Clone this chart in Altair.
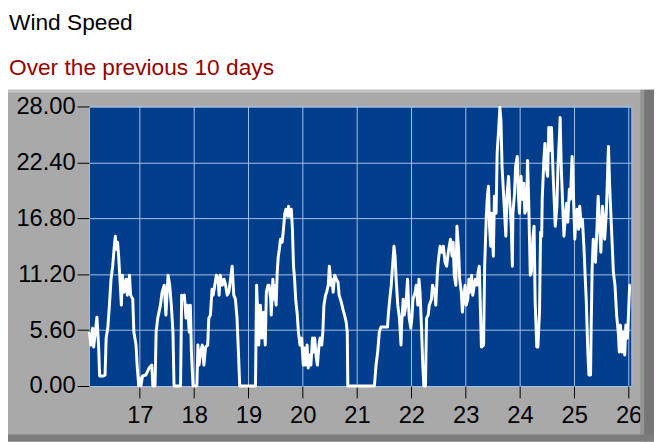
import altair as alt
import pandas as pd


TITLE = "Wind Speed"
SUBTITLE = "Over the previous 10 days"

X_TICKS = [17, 18, 19, 20, 21, 22, 23, 24, 25, 26]
Y_TICKS = [0.0, 5.6, 11.2, 16.8, 22.4, 28.0]

# day of month (fractional) and wind speed
DAY = [
    16.07, 16.10, 16.13, 16.15, 16.18, 16.21, 16.24, 16.26, 16.33, 16.36,
    16.38, 16.41, 16.44, 16.47, 16.50, 16.53, 16.55, 16.56, 16.59, 16.61,
    16.64, 16.66, 16.68, 16.71, 16.75, 16.77, 16.81, 16.83, 16.87, 16.89,
    16.93, 16.95, 16.98, 17.00, 17.02, 17.05, 17.11, 17.17, 17.22, 17.24,
    17.28, 17.30, 17.33, 17.38, 17.41, 17.45, 17.48, 17.52, 17.55, 17.58,
    17.61, 17.63,
    17.75, 17.77, 17.79, 17.82, 17.85, 17.88, 17.91, 17.93, 17.95, 17.98,
    18.05, 18.07, 18.09, 18.12, 18.15, 18.18, 18.21, 18.25, 18.27, 18.30,
    18.33, 18.35, 18.38, 18.41, 18.44, 18.46, 18.48, 18.52, 18.55, 18.58,
    18.61, 18.64, 18.67, 18.70, 18.73, 18.76, 18.79, 18.82, 18.84, 19.13,
    19.15, 19.17, 19.19, 19.22, 19.25, 19.28, 19.31, 19.33, 19.36,
    19.38, 19.41, 19.42, 19.45, 19.47, 19.48, 19.51, 19.53, 19.55, 19.57,
    19.59, 19.62, 19.64, 19.67, 19.69, 19.72, 19.74, 19.76, 19.79, 19.81,
    19.83, 19.85, 19.87, 19.90, 19.92, 19.95, 19.98, 20.01, 20.03, 20.05,
    20.08, 20.10, 20.13, 20.15, 20.18, 20.20, 20.22, 20.25, 20.27, 20.30,
    20.32, 20.35, 20.37, 20.39, 20.42, 20.44, 20.47, 20.49, 20.52, 20.54,
    20.56, 20.59, 20.62, 20.65, 20.67, 20.71, 20.74, 20.77, 20.80, 20.82,
    20.83,
    21.32, 21.35, 21.38, 21.41, 21.44, 21.56, 21.58, 21.61, 21.63, 21.65,
    21.68, 21.70, 21.72, 21.75, 21.78, 21.81, 21.82, 21.85, 21.87, 21.90,
    21.93, 21.96, 21.99, 22.01, 22.03, 22.07, 22.09, 22.12, 22.14, 22.16,
    22.19, 22.21, 22.23, 22.26, 22.28, 22.31, 22.33, 22.37, 22.39, 22.43,
    22.45, 22.48, 22.50, 22.53, 22.56, 22.59, 22.62, 22.65, 22.68, 22.72,
    22.75, 22.77, 22.79, 22.82, 22.84, 22.87, 22.89, 22.92, 22.94, 22.96,
    22.99, 23.01, 23.04, 23.06, 23.08, 23.11, 23.13, 23.16, 23.18, 23.21,
    23.23, 23.25, 23.28, 23.29, 23.33, 23.35, 23.38, 23.40, 23.42, 23.44,
    23.46, 23.48, 23.51, 23.53, 23.56, 23.58, 23.61, 23.63, 23.65, 23.67,
    23.69, 23.72, 23.74, 23.76, 23.79, 23.81, 23.84, 23.86, 23.87, 23.90,
    23.92, 23.95, 23.97, 23.99, 24.02, 24.04, 24.07, 24.09, 24.12, 24.14,
    24.16, 24.19, 24.21, 24.24, 24.26, 24.28, 24.31, 24.33, 24.36, 24.38,
    24.40, 24.41, 24.44, 24.46, 24.48, 24.51, 24.53, 24.56, 24.58, 24.61,
    24.63, 24.65, 24.68, 24.70, 24.73, 24.74, 24.76, 24.79, 24.81, 24.84,
    24.86, 24.88, 24.91, 24.93, 24.96, 24.98, 25.01, 25.03, 25.05, 25.08,
    25.10, 25.13, 25.15, 25.18, 25.20, 25.22, 25.25, 25.27, 25.30, 25.31,
    25.33, 25.35, 25.37, 25.39, 25.42, 25.44, 25.47, 25.49, 25.52, 25.54,
    25.56, 25.59, 25.61, 25.63, 25.65, 25.67, 25.70, 25.72, 25.75, 25.78,
    25.81, 25.83, 25.85, 25.88, 25.90, 25.93, 25.95, 25.98, 26.00, 26.02,
    26.04,
]
SPEED = [
    5.4, 4.1, 5.8, 3.9, 5.4, 6.9, 4.1, 1.0, 1.0, 1.1,
    4.8, 5.8, 8.1, 10.7, 12.0, 14.0, 15.0, 13.7, 14.4, 13.0,
    10.1, 8.1, 11.1, 9.4, 10.7, 9.1, 11.1, 9.1, 8.7, 5.4,
    4.1, 2.1, 0.0, 0.8, 0.0, 1.0, 1.1, 1.8, 2.1, 0.0,
    0.0, 5.4, 6.8, 8.1, 9.4, 10.1, 7.1, 11.1, 10.1, 8.1,
    5.4, 0.0,
    0.0, 9.1, 8.7, 9.1, 6.8, 8.1, 5.4, 8.1, 3.4, 0.0,
    0.0, 4.1, 2.1, 3.4, 4.1, 2.1, 3.9, 4.1, 6.8, 7.1,
    9.7, 9.1, 10.1, 11.1, 10.7, 9.1, 11.1, 10.1, 10.7, 10.1,
    9.1, 9.4, 10.7, 12.0, 9.1, 8.7, 6.8, 2.8, 0.0, 0.0,
    10.1, 7.4, 4.1, 8.1, 4.8, 7.4, 4.1, 9.4, 10.1,
    10.1, 8.7, 7.1, 10.7, 8.7, 10.1, 8.1, 11.4, 13.0, 13.7,
    14.7, 14.4, 15.4, 17.3, 17.7, 17.0, 18.0, 17.0, 17.7, 15.7,
    12.0, 10.7, 8.7, 7.1, 5.4, 4.1, 4.8, 2.1, 3.8, 2.1,
    4.1, 1.8, 3.1, 2.1, 4.8, 3.4, 4.8, 2.8, 2.1, 4.1,
    4.8, 4.1, 5.4, 8.1, 9.1, 9.4, 10.1, 12.0, 10.1, 10.7,
    9.4, 11.1, 10.7, 10.4, 9.1, 8.4, 7.7, 7.1, 6.4, 5.4,
    0.0,
    0.0, 2.1, 3.4, 5.4, 5.9, 5.9, 7.4, 9.1, 10.1, 11.7,
    14.0, 13.0, 10.7, 8.1, 6.8, 4.1, 6.1, 8.7, 7.1, 8.1,
    10.7, 6.8, 5.8, 6.8, 8.7, 9.4, 10.1, 8.1, 10.7, 9.4,
    5.4, 2.1, 0.0, 0.0, 6.8, 7.1, 8.1, 8.7, 10.1, 9.4,
    8.1, 11.4, 12.7, 14.0, 13.4, 14.0, 12.4, 12.0, 13.4, 14.7,
    13.0, 14.4, 11.1, 10.1, 16.0, 13.7, 10.7, 9.4, 7.4, 8.7,
    10.1, 8.1, 8.7, 10.7, 9.4, 11.1, 9.1, 10.1, 10.7, 10.1,
    11.4, 12.0, 6.1, 3.9, 4.1, 12.0, 17.0, 19.0, 20.0, 16.0,
    14.0, 17.3, 13.0, 19.0, 17.3, 23.3, 25.9, 27.9, 26.6, 22.0,
    20.0, 17.0, 15.0, 19.0, 21.0, 18.7, 16.0, 12.0, 17.3, 19.3,
    22.0, 23.0, 19.3, 17.3, 21.0, 18.7, 20.3, 17.3, 17.7, 22.6,
    18.7, 11.1, 11.4, 15.0, 16.0, 8.4, 3.9, 3.9, 7.4, 15.4,
    15.0, 18.7, 22.6, 24.3, 22.0, 21.0, 25.9, 23.6, 25.9, 21.3,
    18.7, 16.0, 18.0, 22.0, 25.3, 26.9, 22.0, 17.7, 15.0, 17.3,
    18.3, 16.4, 19.7, 18.7, 23.0, 20.0, 14.7, 16.7, 17.7, 15.7,
    18.0, 16.0, 16.7, 13.7, 11.1, 8.7, 3.4, 1.1, 1.1, 5.4,
    12.0, 14.7, 13.4, 12.4, 16.0, 19.0, 15.7, 13.4, 18.0, 16.7,
    14.7, 17.3, 20.7, 24.0, 20.3, 17.7, 14.0, 11.4, 10.1, 7.1,
    5.4, 3.4, 6.1, 3.4, 5.4, 3.1, 6.1, 4.8, 7.4, 10.1,
    10.1,
]

PLOT_W = 549
PLOT_H = 283
PAD = {"left": 82, "top": 97, "right": 23, "bottom": 54}

PANEL = "#a9a9a9"
PLOT_BG = "#033e8c"
GRID = "#a7c0e6"
FONT = "Liberation Sans"

one = pd.DataFrame({"k": [0]})


def block(x, x2, y, y2, color):
    return alt.Chart(one).mark_rect(color=color).encode(
        x=alt.value(x), x2=alt.value(x2), y=alt.value(y), y2=alt.value(y2)
    )


left_edge = -PAD["left"]
right_edge = PLOT_W + PAD["right"]
bottom_edge = PLOT_H + PAD["bottom"]

header = block(left_edge - 2, right_edge + 2, -PAD["top"] - 3, -17, "white")
top_light = block(left_edge - 2, right_edge + 2, -17, -14, "#c2c2c2")
right_mid = block(right_edge - 14, right_edge - 10, -17, bottom_edge + 2, "#959595")
right_dark = block(right_edge - 10, right_edge + 2, -17, bottom_edge + 2, "#767676")
bottom_dark = block(left_edge - 2, right_edge + 2, bottom_edge - 5, bottom_edge + 2, "#7c7c7c")

title = alt.Chart(pd.DataFrame({"t": [TITLE]})).mark_text(
    align="left", baseline="alphabetic", font=FONT, fontSize=23, color="black"
).encode(x=alt.value(left_edge + 1), y=alt.value(-77), text="t:N")

subtitle = alt.Chart(pd.DataFrame({"t": [SUBTITLE]})).mark_text(
    align="left", baseline="alphabetic", font=FONT, fontSize=23, color="#990000"
).encode(x=alt.value(left_edge + 1), y=alt.value(-32), text="t:N")

wind = pd.DataFrame({"day": DAY, "speed": SPEED})

line = alt.Chart(wind).mark_line(color="white", strokeWidth=3, strokeJoin="round").encode(
    x=alt.X(
        "day:Q",
        title=None,
        scale=alt.Scale(domain=[16.064, 26.05], nice=False, zero=False),
        axis=alt.Axis(
            values=X_TICKS,
            format="d",
            tickSize=12,
            labelPadding=6,
            labelFlush=False,
            labelOverlap=False,
        ),
    ),
    y=alt.Y(
        "speed:Q",
        title=None,
        scale=alt.Scale(domain=[0, 28], nice=False),
        axis=alt.Axis(
            values=Y_TICKS,
            format=".2f",
            tickSize=12,
            labelPadding=2,
            labelFlush=False,
            labelOverlap=False,
        ),
    ),
)

chart = (
    alt.layer(header, top_light, right_mid, right_dark, bottom_dark, title, subtitle, line)
    .properties(
        width=PLOT_W,
        height=PLOT_H,
        padding=PAD,
        autosize=alt.AutoSizeParams(type="none"),
        background=PANEL,
    )
    .configure_view(fill=PLOT_BG, stroke=GRID, strokeWidth=1)
    .configure_axis(
        labelFont=FONT,
        labelFontSize=24,
        labelColor="black",
        tickColor="black",
        tickWidth=1,
        grid=True,
        gridColor=GRID,
        gridWidth=1,
        gridOpacity=1,
        domain=False,
    )
)

chart.save("out.html", embed_options={"renderer": "svg", "actions": False})
